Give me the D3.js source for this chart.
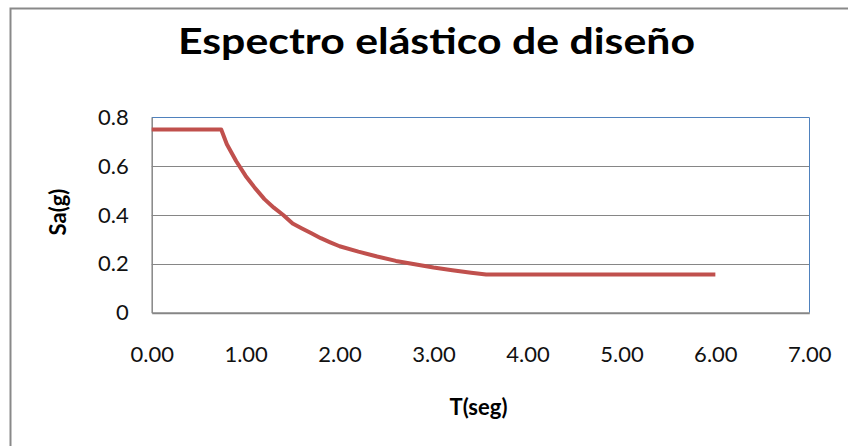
<!DOCTYPE html>
<html>
<head>
<meta charset="utf-8">
<script src="https://cdn.jsdelivr.net/npm/d3@7"></script>
<style>
	body { margin: 0; background: #fff; }
	svg { display: block; }
</style>
</head>
<body>
<div id="chart"></div>
<script>
// periods (s) and spectral accelerations (g)
var periods = [0, 0.74, 0.8, 0.9, 1.0, 1.1, 1.2, 1.3, 1.4, 1.5, 1.6, 1.7, 1.8, 1.9, 2.0, 2.2, 2.4, 2.6, 2.8, 3.0, 3.2, 3.4, 3.56, 6.0];
var accels  = [0.75, 0.75, 0.69, 0.62, 0.56, 0.51, 0.465, 0.43, 0.40, 0.365, 0.345, 0.325, 0.305, 0.288, 0.272, 0.25, 0.23, 0.212, 0.198, 0.185, 0.174, 0.164, 0.156, 0.156];

var xTicks = [0, 1, 2, 3, 4, 5, 6, 7];
var xTickLabels = ["0.00", "1.00", "2.00", "3.00", "4.00", "5.00", "6.00", "7.00"];
var yTicks = [0, 0.2, 0.4, 0.6, 0.8];
var yTickLabels = ["0", "0.2", "0.4", "0.6", "0.8"];

var title = "Espectro elástico de diseño";
var xTitle = "T(seg)";
var yTitle = "Sa(g)";

function init(){
	var w = 848;
	var h = 446;
	var plot = {left: 151.7, right: 809.3, top: 117.3, bottom: 312.7};
	var font = "Lato, 'Open Sans', sans-serif";

	var svg = d3.select("#chart")
				.append("svg")
				.attr("width", w)
				.attr("height", h);

	//outer chart frame
	svg.append("path")
		.attr("d", "M10.5," + h + "V8.5H" + w)
		.attr("fill", "none")
		.attr("stroke", "#898989")
		.attr("stroke-width", 2);

	var x = d3.scaleLinear()
				.domain([0, 7])
				.range([plot.left, plot.right]);

	var y = d3.scaleLinear()
				.domain([0, 0.8])
				.range([plot.bottom, plot.top]);

	//gridlines
	svg.selectAll("line.grid")
		.data(yTicks.filter(function(d){ return d > 0 && d < 0.8; }))
		.enter()
		.append("line")
		.attr("class", "grid")
		.attr("x1", plot.left)
		.attr("x2", plot.right)
		.attr("y1", function(d){ return Math.round(y(d)) + 0.5; })
		.attr("y2", function(d){ return Math.round(y(d)) + 0.5; })
		.attr("stroke", "#868686")
		.attr("stroke-width", 1);

	//plot area border (top and right)
	svg.append("path")
		.attr("d", "M" + plot.left + "," + (Math.round(plot.top) + 0.5) + "H" + (Math.round(plot.right) + 0.5) + "V" + plot.bottom)
		.attr("fill", "none")
		.attr("stroke", "#4f81bd")
		.attr("stroke-width", 1);

	//axes
	var xAxis = d3.axisBottom(x)
					.tickValues(xTicks)
					.tickSize(0)
					.tickPadding(34)
					.tickFormat(function(d, i){ return xTickLabels[i]; });

	var yAxis = d3.axisLeft(y)
					.tickValues(yTicks)
					.tickSize(0)
					.tickPadding(23)
					.tickFormat(function(d, i){ return yTickLabels[i]; });

	var gx = svg.append("g")
		.attr("transform", "translate(0," + plot.bottom + ")")
		.call(xAxis);

	var gy = svg.append("g")
		.attr("transform", "translate(" + plot.left + ",0)")
		.call(yAxis);

	gx.select(".domain").attr("stroke", "#868686").attr("stroke-width", 2);
	gy.select(".domain").attr("stroke", "#868686").attr("stroke-width", 1.5);

	svg.selectAll(".tick text")
		.attr("font-family", font)
		.attr("font-size", 22)
		.attr("fill", "#111");

	//the spectrum
	var line = d3.line()
					.x(function(d){ return x(d[0]); })
					.y(function(d){ return y(d[1]); });

	svg.append("path")
		.datum(d3.zip(periods, accels))
		.attr("d", line)
		.attr("fill", "none")
		.attr("stroke", "#c0504d")
		.attr("stroke-width", 4)
		.attr("stroke-linejoin", "round");

	//titles
	svg.append("text")
		.text(title)
		.attr("x", 436.5)
		.attr("y", 54)
		.attr("text-anchor", "middle")
		.attr("textLength", 517)
		.attr("lengthAdjust", "spacingAndGlyphs")
		.attr("font-family", font)
		.attr("font-weight", "bold")
		.attr("font-size", 37)
		.attr("fill", "#000");

	svg.append("text")
		.text(xTitle)
		.attr("x", (plot.left + plot.right) / 2 - 2)
		.attr("y", 415)
		.attr("text-anchor", "middle")
		.attr("font-family", font)
		.attr("font-weight", "bold")
		.attr("font-size", 22)
		.attr("fill", "#000");

	svg.append("text")
		.text(yTitle)
		.attr("transform", "translate(66,212) rotate(-90)")
		.attr("text-anchor", "middle")
		.attr("font-family", font)
		.attr("font-weight", "bold")
		.attr("font-size", 22)
		.attr("fill", "#000");
}

window.onload = init;
</script>
</body>
</html>
